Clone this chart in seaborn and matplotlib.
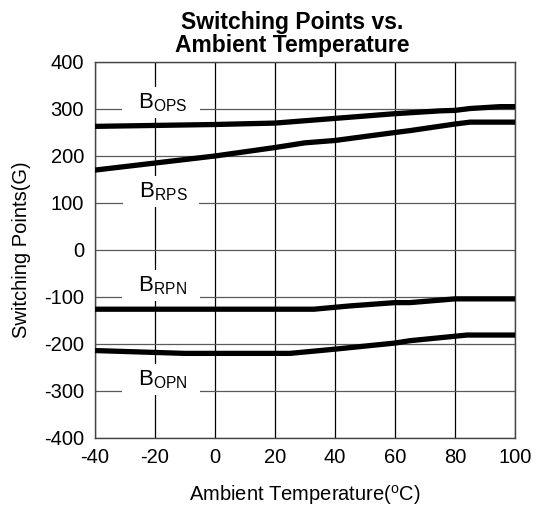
import numpy as np
import pandas as pd
import matplotlib
matplotlib.use('Agg')
import matplotlib.pyplot as plt
import seaborn as sns

# ============================================================================
# DATA
# ============================================================================

temp_ops = [-40, -20, 0, 20, 40, 60, 75, 80, 85, 95, 100]
b_ops = [263, 265, 267, 270, 280, 290, 296, 297, 301, 305, 305]

temp_rps = [-40, 0, 20, 30, 40, 60, 65, 80, 85, 100]
b_rps = [170, 200, 218, 228, 233, 250, 254, 268, 272, 272]

temp_rpn = [-40, 25, 33, 45, 60, 65, 80, 100]
b_rpn = [-126, -126, -126, -119, -112, -112, -104, -104]

temp_opn = [-40, -10, 25, 40, 60, 65, 84, 100]
b_opn = [-214, -220, -220, -211, -198, -193, -181, -181]

labels = ['OPS', 'RPS', 'RPN', 'OPN']
label_pos = [(-18, 314), (-18, 124), (-18, -76), (-18, -276)]

x_ticks = [-40, -20, 0, 20, 40, 60, 80, 100]
y_ticks = [-400, -300, -200, -100, 0, 100, 200, 300, 400]

# ============================================================================
# PLOT
# ============================================================================

sns.set_style('white')
plt.rcParams['font.family'] = ['Liberation Sans', 'DejaVu Sans']
plt.rcParams['mathtext.fontset'] = 'custom'
plt.rcParams['mathtext.rm'] = 'Liberation Sans'
plt.rcParams['axes.unicode_minus'] = False
plt.rcParams['text.color'] = 'black'
plt.rcParams['axes.labelcolor'] = 'black'

fig = plt.figure(figsize=(5.38, 5.11), dpi=100)
ax = fig.add_axes([0.1766, 0.1429, 0.7807, 0.7358])

series = [(temp_ops, b_ops), (temp_rps, b_rps), (temp_rpn, b_rpn), (temp_opn, b_opn)]
for t, b in series:
    df = pd.DataFrame({'T': t, 'B': b})
    sns.lineplot(data=df, x='T', y='B', color='black', linewidth=3.8,
                 solid_capstyle='round', ax=ax, zorder=3)

ax.set_xlim(-40, 100)
ax.set_ylim(-400, 400)
ax.set_xticks(x_ticks)
ax.set_yticks(y_ticks)
ax.tick_params(axis='both', length=0, labelsize=14.5, colors='black')
ax.tick_params(axis='x', pad=7)
ax.tick_params(axis='y', pad=8)

for v in x_ticks:
    ax.axvline(v, color='black', linewidth=0.9, zorder=1)
for v in y_ticks:
    ax.axhline(v, color='#5a5a5a', linewidth=0.9, zorder=1)

for s in ax.spines.values():
    s.set_color('#444444')
    s.set_linewidth(1.0)

for name, (lx, ly) in zip(labels, label_pos):
    ax.text(lx, ly, '  B$_{\\mathregular{' + name + '}}$  ', fontsize=16,
            color='black', ha='center', va='center', zorder=2,
            bbox=dict(facecolor='white', edgecolor='none', pad=3))

ax.set_xlabel('Ambient Temperature($^{\\mathregular{o}}$C)', fontsize=14.5,
              labelpad=12, color='black')
ax.set_ylabel('Switching Points(G)', fontsize=14.5, labelpad=9, color='black')
ax.set_title('Switching Points vs.\nAmbient Temperature', fontsize=16.5,
             fontweight='bold', pad=7, linespacing=1.0, x=0.47, color='black')

plt.savefig('out.png', dpi=100)
